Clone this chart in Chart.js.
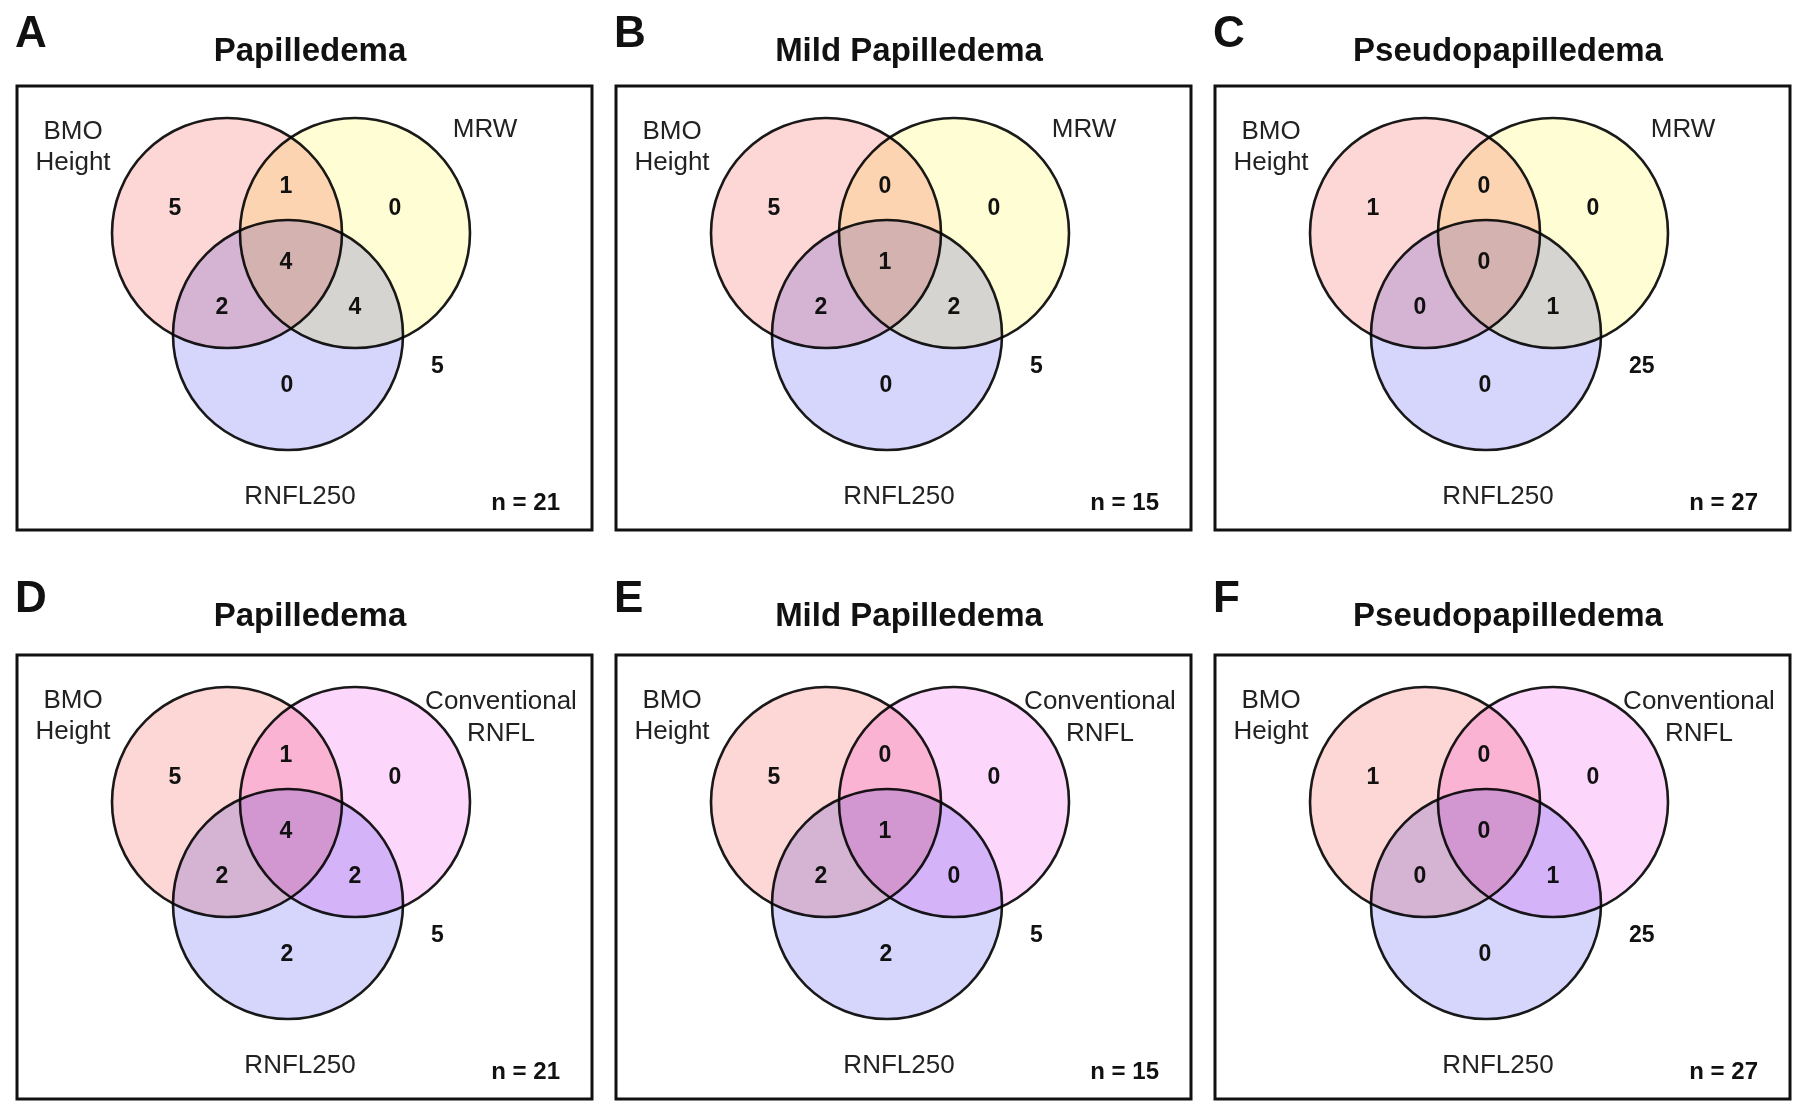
<!DOCTYPE html>
<html>
<head>
<meta charset="utf-8">
<script src="https://cdn.jsdelivr.net/npm/chart.js@4.4.1/dist/chart.umd.min.js"></script>
<style>
  html, body { margin: 0; padding: 0; background: #fff; }
  #figura { position: relative; width: 1800px; height: 1110px; }
  .painel { position: absolute; }
</style>
</head>
<body>
<div id="figura"></div>
<script>
// dados dos seis diagramas
const panelLetters = ['A', 'B', 'C', 'D', 'E', 'F'];
const panelTitles = ['Papilledema', 'Mild Papilledema', 'Pseudopapilledema',
                     'Papilledema', 'Mild Papilledema', 'Pseudopapilledema'];
const setsTop = [['BMO', 'Height'], ['MRW'], ['RNFL250']];
const setsBottom = [['BMO', 'Height'], ['Conventional', 'RNFL'], ['RNFL250']];
// ordem das regioes: so 1, 1∩2, so 2, 1∩2∩3, 1∩3, 2∩3, so 3, nenhum
const countsA = [5, 1, 0, 4, 2, 4, 0, 5];
const countsB = [5, 0, 0, 1, 2, 2, 0, 5];
const countsC = [1, 0, 0, 0, 0, 1, 0, 25];
const countsD = [5, 1, 0, 4, 2, 2, 2, 5];
const countsE = [5, 0, 0, 1, 2, 0, 2, 5];
const countsF = [1, 0, 0, 0, 0, 1, 0, 25];
const totals = [21, 15, 27, 21, 15, 27];

// layout (1 unidade do eixo = 1 pixel dentro da caixa)
const BOX_W = 575, BOX_H = 444;
const colX = [0, 599, 1198];
const rowY = [0, 569];
const headShift = [0, -4];   // titulo da 2a linha fica um pouco mais acima da caixa
const circleCenters = [[210, 147], [338, 147], [271, 249]];
const circleR = 115;
const regionPos = [[158, 123], [269, 101], [378, 123], [269, 177], [205, 222], [338, 222], [270, 300], [414, 281]];
const fillsTop = ['rgb(253,214,214)', 'rgb(254,253,211)', 'rgb(214,214,252)'];
const fillsBottom = ['rgb(253,214,214)', 'rgb(253,214,252)', 'rgb(214,214,252)'];
const FONTE = '"Liberation Sans", Arial, Helvetica, sans-serif';

const allCounts = [countsA, countsB, countsC, countsD, countsE, countsF];

// plugin que pinta textos, moldura e mistura as cores
const vennPlugin = {
  id: 'venn',
  beforeDatasetsDraw(chart) {
    chart.ctx.save();
    chart.ctx.globalCompositeOperation = 'multiply';
  },
  afterDatasetsDraw(chart) {
    chart.ctx.restore();
  },
  afterDraw(chart, args, opts) {
    const { ctx, chartArea, scales: { x, y } } = chart;
    ctx.save();
    ctx.lineWidth = 3;
    ctx.strokeStyle = '#111';
    ctx.strokeRect(chartArea.left, chartArea.top, chartArea.right - chartArea.left, chartArea.bottom - chartArea.top);

    const put = (txt, px, py, font, align, color) => {
      ctx.font = font;
      ctx.textAlign = align;
      ctx.textBaseline = 'middle';
      ctx.fillStyle = color;
      ctx.fillText(txt, x.getPixelForValue(px), y.getPixelForValue(py));
    };

    put(opts.letter, -2, -51 + opts.shift, 'bold 44px ' + FONTE, 'left', '#111');
    put(opts.title, 293, -34 + opts.shift, 'bold 33px ' + FONTE, 'center', '#111');

    // nomes dos conjuntos
    const s = opts.sets;
    put(s[0][0], 56, 46, '26px ' + FONTE, 'center', '#222');
    put(s[0][1], 56, 77, '26px ' + FONTE, 'center', '#222');
    if (s[1].length === 1) {
      put(s[1][0], 468, 44, '26px ' + FONTE, 'center', '#222');
    } else {
      put(s[1][0], 484, 47, '26px ' + FONTE, 'center', '#222');
      put(s[1][1], 484, 79, '26px ' + FONTE, 'center', '#222');
    }
    put(s[2][0], 283, 411, '26px ' + FONTE, 'center', '#222');

    // contagens
    opts.counts.forEach((c, i) => {
      const p = regionPos[i];
      put(String(c), p[0], p[1], 'bold 23px ' + FONTE, i === 7 ? 'left' : 'center', '#111');
    });
    put('n = ' + opts.n, 543, 417, 'bold 24px ' + FONTE, 'right', '#111');
    ctx.restore();
  }
};

const figura = document.getElementById('figura');

panelLetters.forEach((letra, i) => {
  const linha = Math.floor(i / 3);
  const coluna = i % 3;
  const div = document.createElement('div');
  div.className = 'painel';
  div.style.left = colX[coluna] + 'px';
  div.style.top = rowY[linha] + 'px';
  const canvas = document.createElement('canvas');
  canvas.width = 600;
  canvas.height = 541;
  canvas.style.width = '600px';
  canvas.style.height = '541px';
  div.appendChild(canvas);
  figura.appendChild(div);

  new Chart(canvas, {
    type: 'bubble',
    data: {
      datasets: [{
        data: circleCenters.map(c => ({ x: c[0], y: c[1] })),
        backgroundColor: linha === 0 ? fillsTop : fillsBottom,
        borderColor: '#1a1a1a',
        borderWidth: 2.6,
        radius: circleR
      }]
    },
    options: {
      responsive: false,
      devicePixelRatio: 1,
      animation: false,
      events: [],
      layout: { padding: { left: 17, top: 86, right: 8, bottom: 11 }, autoPadding: false },
      scales: {
        x: { type: 'linear', min: 0, max: BOX_W, display: false },
        y: { type: 'linear', min: 0, max: BOX_H, reverse: true, display: false }
      },
      plugins: {
        legend: { display: false },
        tooltip: { enabled: false },
        venn: {
          letter: letra,
          title: panelTitles[i],
          sets: linha === 0 ? setsTop : setsBottom,
          counts: allCounts[i],
          n: totals[i],
          shift: headShift[linha]
        }
      }
    },
    plugins: [vennPlugin]
  });
});
</script>
</body>
</html>
